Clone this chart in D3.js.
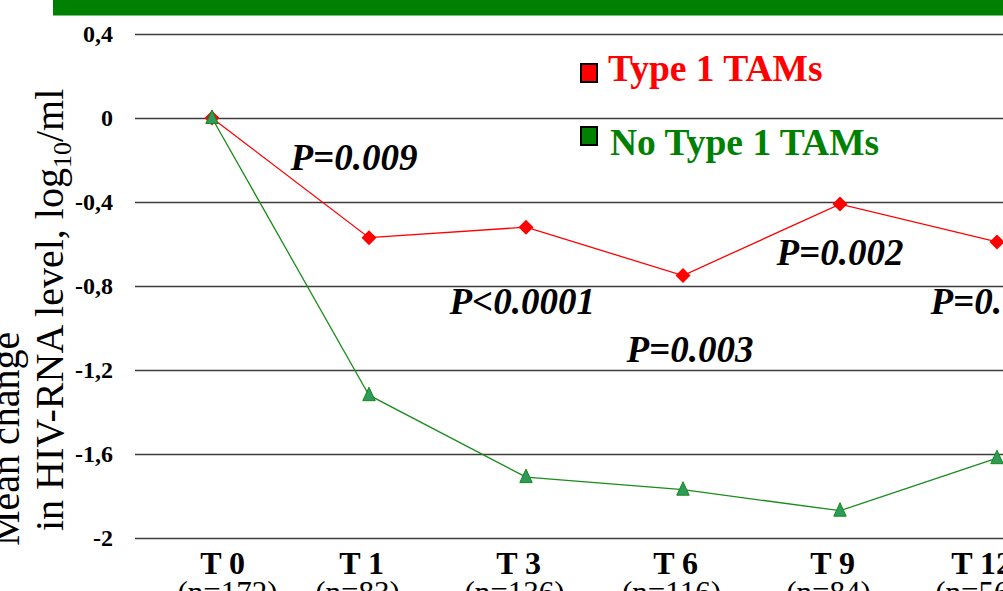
<!DOCTYPE html>
<html>
<head>
<meta charset="utf-8">
<script src="https://cdn.jsdelivr.net/npm/d3@7"></script>
<style>
  html, body { margin: 0; padding: 0; background: #fff; overflow: hidden; }
  svg { display: block; font-family: "Liberation Serif", "Times New Roman", serif; }
</style>
</head>
<body>
<svg id="chart" width="1003" height="591"></svg>
<script>
// Visit labels and patient counts per visit
const categories = ["T 0", "T 1", "T 3", "T 6", "T 9", "T 12"];
const patientCounts = [172, 83, 136, 116, 84, 56];

// Mean change in HIV-RNA (log10 copies/ml) from baseline
const type1Values = [0, -0.57, -0.52, -0.75, -0.41, -0.59];
const noType1Values = [0, -1.32, -1.71, -1.77, -1.87, -1.62];

// Y axis tick values
const yTicks = [0.4, 0, -0.4, -0.8, -1.2, -1.6, -2];

// Significance annotations between the two groups, one per visit interval
const pLabels = ["P=0.009", "P<0.0001", "P=0.003", "P=0.002", "P=0.001"];
const pLabelLevel = [-0.248, -0.933, -1.162, -0.70, -0.933];

const seriesNames = ["Type 1 TAMs", "No Type 1 TAMs"];

const svg = d3.select("#chart");
const W = 1003, H = 591;
const serif = "'Liberation Serif', 'Times New Roman', serif";

const red = "#ff0000";
const green = "#008000";

// Header band
svg.append("rect").attr("x", 53).attr("y", 0).attr("width", W - 53).attr("height", 15.5).attr("fill", green);

const x = d3.scalePoint().domain(categories).range([212, 212 + 157 * 5]);
const y = d3.scaleLinear().domain([-2, 0.4]).range([538, 34]);

const locale = d3.formatLocale({ decimal: ",", thousands: ".", grouping: [3], currency: ["", ""], minus: "-" });
const fmt = locale.format("~g");

// Y axis with full-width gridlines
const gridLeft = 135;
const yAxis = svg.append("g")
  .attr("transform", `translate(${gridLeft},0)`)
  .call(d3.axisLeft(y).tickValues(yTicks).tickFormat(fmt).tickSize(-(W - gridLeft)).tickPadding(22));
yAxis.attr("font-family", null);
yAxis.select(".domain").remove();
yAxis.selectAll(".tick line").attr("stroke", "#3c3c3c").attr("stroke-width", 1.4);
yAxis.selectAll(".tick text")
  .attr("fill", "#000")
  .style("font-family", serif)
  .style("font-weight", "bold")
  .style("font-size", "24px")
  .attr("dy", "0.33em");

// X axis: visit label with patient count underneath
const xAxis = svg.append("g")
  .attr("transform", "translate(0,538)")
  .call(d3.axisBottom(x).tickSize(0).tickFormat(""));
xAxis.attr("font-family", null);
xAxis.select(".domain").remove();
const labelShift = i => (i === 0 ? 10 : i === 5 ? -16 : -8);
xAxis.selectAll(".tick").each(function (d, i) {
  const g = d3.select(this);
  g.append("text")
    .attr("x", labelShift(i)).attr("y", 36)
    .attr("text-anchor", "middle").attr("fill", "#000")
    .style("font-family", serif)
    .style("font-weight", "bold").style("font-size", "32px")
    .text(d);
  g.append("text")
    .attr("x", labelShift(i) + (i === 0 ? 5 : -4)).attr("y", 65)
    .attr("text-anchor", "middle").attr("fill", "#000")
    .style("font-family", serif)
    .style("font-size", "31px")
    .text(`(n=${patientCounts[i]})`);
});

// Y axis title (two lines, rotated)
const yTitle = svg.append("text")
  .attr("transform", "rotate(-90)")
  .attr("fill", "#000")
  .style("font-family", serif)
  .style("font-size", "40px");
yTitle.append("tspan").attr("x", -546).attr("y", 19).text("Mean change");
yTitle.append("tspan").attr("x", -531).attr("y", 63).text("in HIV-RNA level, log");
yTitle.append("tspan").attr("dy", 8).style("font-size", "26px").text("10");
yTitle.append("tspan").attr("dy", -8).text("/ml");

// Lines
const line = d3.line().x((d, i) => x(categories[i])).y(d => y(d));

svg.append("path").datum(type1Values)
  .attr("d", line).attr("fill", "none").attr("stroke", red).attr("stroke-width", 1.3);
svg.append("path").datum(noType1Values)
  .attr("d", line).attr("fill", "none").attr("stroke", "#1a8c1a").attr("stroke-width", 1.3);

// Diamond markers (rotated squares)
svg.append("g").selectAll("path").data(type1Values).join("path")
  .attr("d", d3.symbol().type(d3.symbolSquare).size(112)())
  .attr("transform", (d, i) => `translate(${x(categories[i])},${y(d)}) rotate(45)`)
  .attr("fill", red);

// Triangle markers
const tri = "M0,-8 L6.2,5.5 L-6.2,5.5 Z";
svg.append("g").selectAll("path").data(noType1Values).join("path")
  .attr("d", tri)
  .attr("transform", (d, i) => `translate(${x(categories[i])},${y(d)})`)
  .attr("fill", "#2e9a5c")
  .attr("stroke", "#128a12")
  .attr("stroke-width", 1);

// P-value annotations, each starting near the middle of its visit interval
const pShift = [0, 2, 22, 15, 12];
svg.append("g").selectAll("text").data(pLabels).join("text")
  .attr("x", (d, i) => (x(categories[i]) + x(categories[i + 1])) / 2 + pShift[i])
  .attr("y", (d, i) => y(pLabelLevel[i]))
  .attr("fill", "#000")
  .style("font-family", serif)
  .style("font-weight", "bold")
  .style("font-style", "italic")
  .style("font-size", "37px")
  .text(d => d);

// Legend
const legend = svg.append("g");
const legendRows = [
  { name: seriesNames[0], color: red, y: 81, sq: 64, tx: 608 },
  { name: seriesNames[1], color: green, y: 155, sq: 127, tx: 610 }
];
legendRows.forEach(r => {
  legend.append("rect").attr("x", 581).attr("y", r.sq).attr("width", 16).attr("height", 18)
    .attr("fill", r.color).attr("stroke", "#000").attr("stroke-width", 2);
  legend.append("text").attr("x", r.tx).attr("y", r.y)
    .attr("fill", r.color)
    .style("font-family", serif)
    .style("font-weight", "bold").style("font-size", "37.5px").text(r.name);
});
</script>
</body>
</html>
